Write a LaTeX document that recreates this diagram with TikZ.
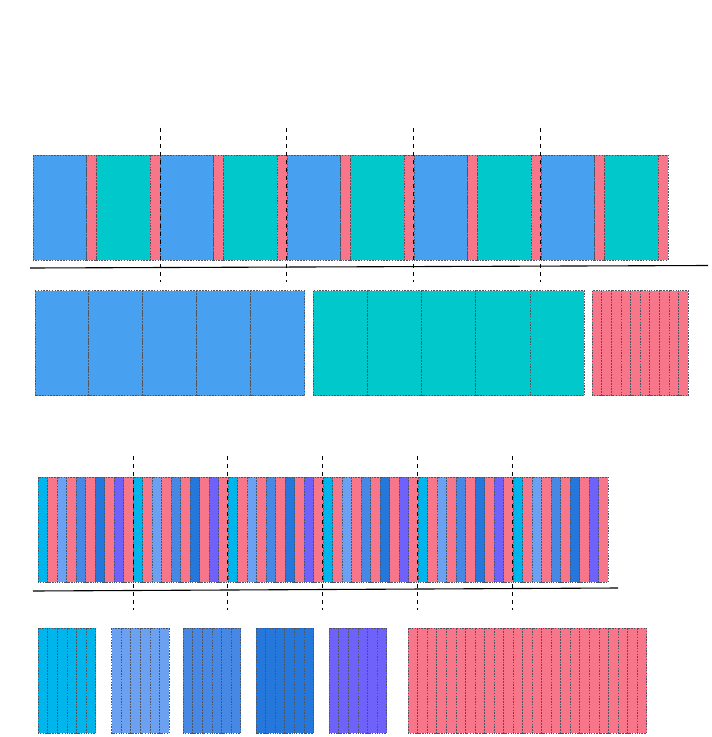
\documentclass[tikz,border=0pt]{standalone}
\definecolor{cblue}{HTML}{48A0F0}
\definecolor{cteal}{HTML}{00C8CB}
\definecolor{cpink}{HTML}{F7768A}
\definecolor{ccyan}{HTML}{00B5EB}
\definecolor{clblue}{HTML}{6CA0F0}
\definecolor{cmblue}{HTML}{4688E4}
\definecolor{cdblue}{HTML}{2677DB}
\definecolor{cpurple}{HTML}{6E62FA}
\definecolor{cedge}{HTML}{4E5560}
\begin{document}
\begin{tikzpicture}[x=1pt,y=-1pt,
  strip/.style={draw=cedge, dash pattern=on 1.5pt off 1.3pt, line width=0.9pt},
  sep/.style={draw=black, dash pattern=on 4pt off 4pt, line width=0.9pt},
  axis/.style={draw=black, line width=1.1pt}]
\useasboundingbox (0,0) rectangle (712,737);
% ---- section 1: interleaved top row
\foreach \k in {0,...,4}{
  \draw[strip,fill=cblue] ({33.3+127*\k},155.3) rectangle +(53.5,104.7);
  \draw[strip,fill=cpink] ({86.8+127*\k},155.3) rectangle +(10,104.7);
  \draw[strip,fill=cteal] ({96.8+127*\k},155.3) rectangle +(53.5,104.7);
  \draw[strip,fill=cpink] ({150.3+127*\k},155.3) rectangle +(10,104.7);
}
\draw[axis] (30,268) -- (708,265.5);
\foreach \k in {1,...,4}
  \draw[sep] ({33.3+126.7*\k},128) -- ({33.3+126.7*\k},282);
% ---- section 2: grouped
\foreach \k in {0,...,4}{
  \draw[strip,fill=cblue] ({35+53.9*\k},290.7) rectangle +(53.9,105);
  \draw[strip,fill=cteal] ({313.3+54.2*\k},290.7) rectangle +(54.2,105);
}
\foreach \k in {0,...,9}
  \draw[strip,fill=cpink] ({592.3+9.6*\k},290.7) rectangle +(9.6,105);
% ---- section 3: interleaved bottom row
\foreach \k in {0,...,5}{
  \foreach \c [count=\i from 0] in {ccyan,cpink,clblue,cpink,cmblue,cpink,cdblue,cpink,cpurple,cpink}
    \draw[strip,fill=\c] ({38.3+95*\k+9.5*\i},477.3) rectangle +(9.5,105);
}
\draw[axis] (33,591) -- (618,588);
\foreach \k in {1,...,5}
  \draw[sep] ({38.3+94.8*\k},456) -- ({38.3+94.8*\k},610);
% ---- section 4: grouped
\foreach \gx/\c in {38.3/ccyan,111.7/clblue,183.3/cmblue,256/cdblue,329.3/cpurple}{
  \foreach \i in {0,...,5}
    \draw[strip,fill=\c] ({\gx+9.6*\i},628.3) rectangle +(9.6,105);
}
\foreach \i in {0,...,24}
  \draw[strip,fill=cpink] ({408.3+9.535*\i},628.3) rectangle +(9.535,105);
\end{tikzpicture}
\end{document}
